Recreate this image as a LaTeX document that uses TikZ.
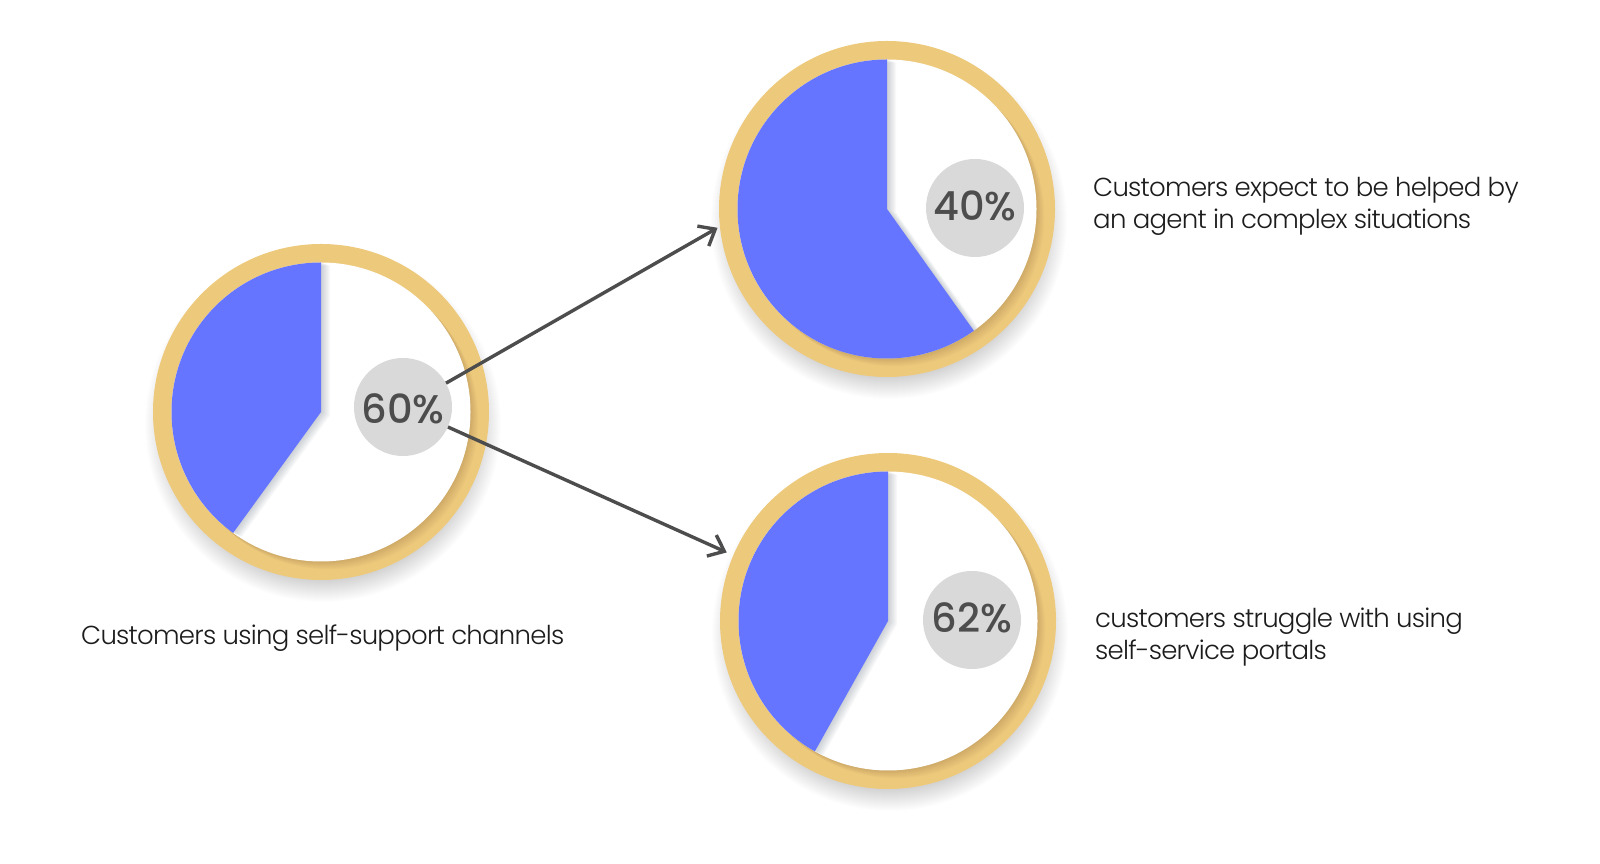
\documentclass[tikz,border=0pt]{standalone}
\usepackage{fontspec}
\setmainfont{Poppins Light}[LetterSpace=-2.9]
\newfontfamily\badgefont{Poppins Medium}
\usetikzlibrary{arrows.meta,calc}
\definecolor{ringgold}{HTML}{EDC97C}
\definecolor{wedgeblue}{HTML}{6675FF}
\definecolor{badgegray}{HTML}{D9D9D9}
\definecolor{inkgray}{HTML}{4D4D4D}
\definecolor{textgray}{HTML}{1C1C1C}
\definecolor{edgeshade}{HTML}{5A6A7A}
\tikzset{>={Straight Barb[length=14pt,width=23pt,line width=3.4pt]},x=1pt,y=1pt,
  ringdisc/.style={circle,fill=ringgold,minimum size=336pt,inner sep=0pt},
  badge/.style={circle,fill=badgegray,text=inkgray,minimum size=98pt,inner sep=0pt,
    font=\badgefont\fontsize{40}{40}\selectfont},
  caption/.style={anchor=north west,align=left,text=textgray,inner sep=0pt,
    font=\fontsize{26}{32}\selectfont},
  pointer/.style={->,inkgray,line width=3.4pt}}

\begin{document}
\begin{tikzpicture}
  \useasboundingbox (0,0) rectangle (1600,864);
  \foreach \pie/\cx/\cy/\endang/\bx/\by/\val/\dy in {
      a/321/452/234/403/457/60/-16.5,
      b/887/655/305.5/975/656/40/-12.5,
      c/888/243/240.7/972/244/62/-12.5} {
    % soft shadow
    \foreach \i in {-12,...,10}
      \fill[black,opacity=.006] (\cx+2,\cy-12) circle (168+\i);
    \node[ringdisc] (ring\pie) at (\cx,\cy) {};
    \begin{scope}
      \clip (\cx,\cy) circle (168);
      \foreach \i in {1,...,10}
        \fill[black,opacity=.012] (\cx+.8*\i,\cy-.8*\i) circle (149.5);
    \end{scope}
    \fill[white] (\cx,\cy) circle (149.5);
    \begin{scope}
      \clip (\cx,\cy) circle (149.5);
      \foreach \i in {1,...,9}
        \fill[edgeshade,opacity=.035] (\cx+\i,\cy-.4*\i) -- ++(90:150)
          arc (90:\endang:150) -- cycle;
    \end{scope}
    \fill[wedgeblue] (\cx,\cy) -- ++(90:149.5) arc (90:\endang:149.5) -- cycle;
    \node[badge] (badge\pie) at (\bx,\by) {\raisebox{\dy pt}[0pt][0pt]{\val\%}};
  }
  \draw[pointer,shorten >=2.5pt] (badgea.29) -- (ringb.186.7);
  \draw[pointer,shorten >=7pt] (badgea.-24) -- (ringc.157);
  \node[caption] (capa) at (81,239) {Customers using self-support channels};
  \node[caption] (capb) at (1093,687) {Customers expect to be helped by\\an agent in complex situations};
  \node[caption] (capc) at (1095,256) {customers struggle with using\\self-service portals};
\end{tikzpicture}
\end{document}
